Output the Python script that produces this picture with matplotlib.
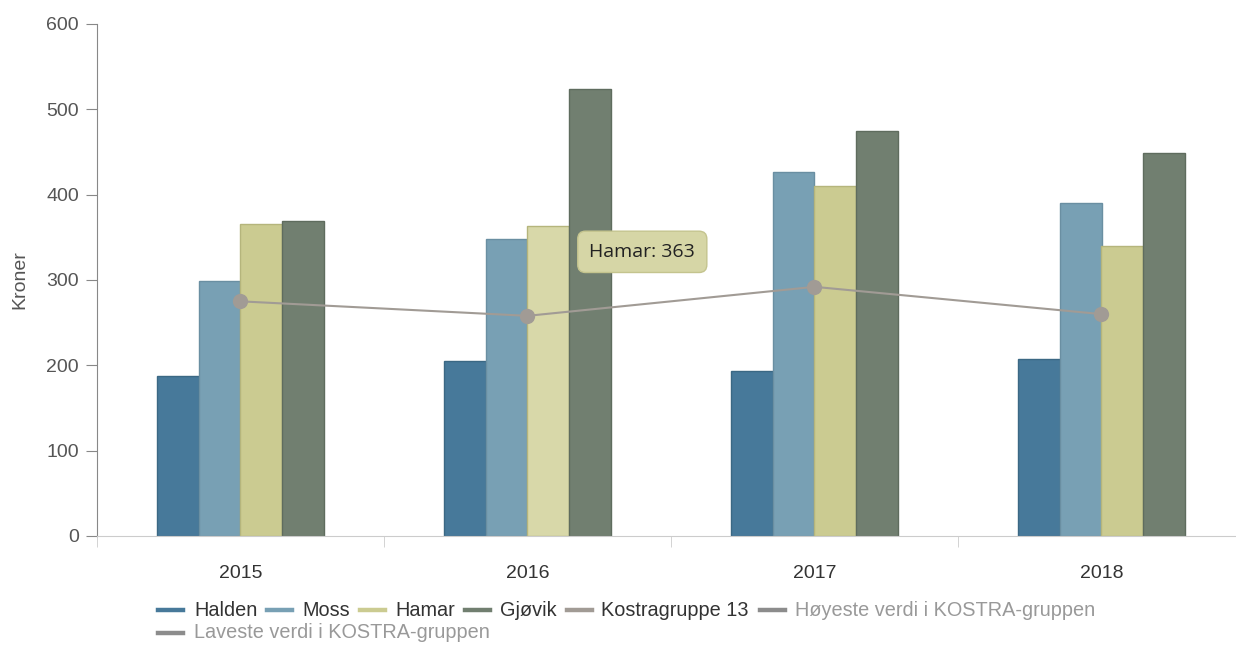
import matplotlib
matplotlib.use("Agg")
import matplotlib.pyplot as plt
from matplotlib.lines import Line2D
import numpy as np

years = ["2015", "2016", "2017", "2018"]
halden = [188, 205, 193, 207]
moss = [299, 348, 427, 390]
hamar = [366, 363, 410, 340]
gjovik = [369, 524, 475, 449]
kostra = [275, 258, 292, 260]

series_names = ["Halden", "Moss", "Hamar", "Gjøvik"]
series_vals = [halden, moss, hamar, gjovik]
colors = ["#47799a", "#78a0b4", "#cbcb91", "#717f70"]
edges = ["#3b6884", "#6a8fa2", "#b5b57c", "#5f6c5e"]
kostra_color = "#a19b95"

plt.rcParams['font.family'] = ['Liberation Sans', 'DejaVu Sans']

W, H = 1236, 646
fig = plt.figure(figsize=(W/100, H/100), dpi=100)
ax = fig.add_axes([97/W, 110/H, 1148/W, 512/H])

x = np.arange(len(years))
w = 0.145
for i, (name, vals) in enumerate(zip(series_names, series_vals)):
    offs = (i - 1.5) * w
    fcs = [colors[i]] * len(vals)
    if name == "Hamar":
        fcs[1] = "#d8d8a9"
    ax.bar(x + offs, vals, width=w, color=fcs, edgecolor=edges[i], linewidth=1, zorder=2)

ax.plot(x, kostra, color=kostra_color, lw=1.5, marker="o", markersize=11,
        markeredgewidth=0, zorder=3)

# tooltip
ax.text(1.40, 333, "Hamar: 363", fontsize=14, family=["Open Sans", "DejaVu Sans"],
        color="#222222", ha="center", va="center", zorder=5,
        bbox=dict(boxstyle="round,pad=0.6,rounding_size=0.4", fc="#d6d6a6",
                  ec="#c4c48e", lw=1))

ax.set_xlim(-0.5, 3.5)
ax.set_ylim(0, 600)
ax.set_yticks(range(0, 601, 100))
ax.set_xticks(x)
ax.set_xticklabels(years)
ax.set_xticks([-0.5, 0.5, 1.5, 2.5, 3.5], minor=True)
ax.tick_params(axis="x", which="major", length=0, pad=21, labelsize=14, labelcolor="#333333")
ax.tick_params(axis="x", which="minor", length=8, color="#cccccc", direction="out")
ax.tick_params(axis="y", length=8, color="#888888", labelsize=14, labelcolor="#555555", pad=5)

for s in ["top", "right"]:
    ax.spines[s].set_visible(False)
ax.spines["left"].set_color("#888888")
ax.spines["bottom"].set_color("#cccccc")
ax.set_ylabel("Kroner", fontsize=14, color="#555555", labelpad=13)

legend_labels = series_names + ["Kostragruppe 13", "Høyeste verdi i KOSTRA-gruppen",
                                "Laveste verdi i KOSTRA-gruppen"]
legend_colors = colors + [kostra_color, "#8c8c8c", "#8c8c8c"]
legend_text_colors = ["#333333"] * 5 + ["#999999"] * 2
# (marker x start, text x start, row y) in pixels
legend_pos = [(158, 194, 610), (267, 302, 610), (360, 395, 610), (465, 500, 610),
              (567, 601, 610), (760, 795, 610), (158, 194, 633)]
for lab, c, tc, (mx, tx, ry) in zip(legend_labels, legend_colors, legend_text_colors, legend_pos):
    yf = 1 - ry / H
    fig.add_artist(Line2D([mx / W, (mx + 25) / W], [yf, yf], color=c, lw=3.2,
                          transform=fig.transFigure))
    fig.text(tx / W, yf, lab, fontsize=14.3, color=tc, ha="left", va="center")

fig.savefig("out.png", dpi=100)
